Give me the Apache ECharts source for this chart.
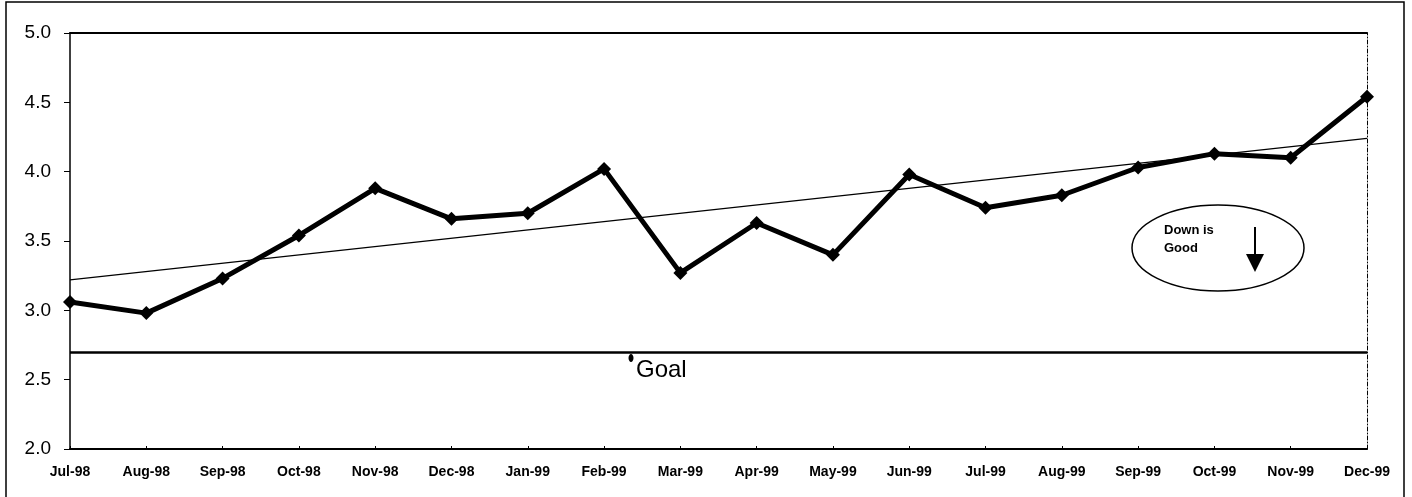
<!DOCTYPE html>
<html>
<head>
<meta charset="utf-8">
<script src="https://cdn.jsdelivr.net/npm/echarts@6/dist/echarts.min.js"></script>
<style>html,body{margin:0;padding:0;background:#fff}#c{width:1412px;height:497px}</style>
</head>
<body>
<div id="c"></div>
<script>
var categories = ['Jul-98','Aug-98','Sep-98','Oct-98','Nov-98','Dec-98','Jan-99','Feb-99','Mar-99','Apr-99','May-99','Jun-99','Jul-99','Aug-99','Sep-99','Oct-99','Nov-99','Dec-99'];
var values = [3.06, 2.98, 3.23, 3.54, 3.88, 3.66, 3.70, 4.02, 3.27, 3.63, 3.40, 3.98, 3.74, 3.83, 4.03, 4.13, 4.10, 4.54];
var trendStart = 3.22;
var trendEnd = 4.24;
var goal = 2.70;
var yTicks = [2.0, 2.5, 3.0, 3.5, 4.0, 4.5, 5.0];

var trend = categories.map(function (c, i) {
  return i === 0 ? trendStart : (i === categories.length - 1 ? trendEnd : null);
});

var chart = echarts.init(document.getElementById('c'));
var F = 'Liberation Sans, Arial, sans-serif';
chart.setOption({
  animation: false,
  backgroundColor: '#fff',
  grid: { left: 70, right: 45, top: 33, bottom: 48 },
  xAxis: [{
    type: 'category', data: categories, boundaryGap: false,
    axisLine: { lineStyle: { color: '#000', width: 2 } },
    axisTick: { show: true, inside: true, length: 3, lineStyle: { color: '#000' } },
    axisLabel: { color: '#000', fontFamily: F, fontWeight: 'bold', fontSize: 14, margin: 16, interval: 0 },
    splitLine: { show: false }
  }, {
    type: 'category', data: categories, boundaryGap: false, position: 'top',
    axisLine: { lineStyle: { color: '#000', width: 2 } },
    axisTick: { show: false }, axisLabel: { show: false }
  }],
  yAxis: [{
    type: 'value', min: yTicks[0], max: yTicks[yTicks.length - 1], interval: 0.5,
    axisLine: { show: true, lineStyle: { color: '#000', width: 1.5 } },
    axisTick: { show: true, length: 6, lineStyle: { color: '#000' } },
    axisLabel: { color: '#000', fontFamily: F, fontSize: 19, margin: 19, formatter: function (v) { return v.toFixed(1); } },
    splitLine: { show: false }
  }, {
    type: 'value', min: yTicks[0], max: yTicks[yTicks.length - 1], interval: 0.5, position: 'right',
    axisLine: { show: true, lineStyle: { color: '#000', width: 1, type: [4, 2, 1, 2] } },
    axisTick: { show: false }, axisLabel: { show: false }, splitLine: { show: false }
  }],
  series: [{
    type: 'line', data: trend, connectNulls: true, symbol: 'none',
    lineStyle: { color: '#000', width: 1.3 }, z: 2,
    markLine: {
      silent: true, symbol: 'none', label: { show: false },
      lineStyle: { color: '#000', width: 2.5, type: 'solid' },
      data: [{ yAxis: goal }]
    }
  }, {
    type: 'line', data: values, symbol: 'diamond', symbolSize: 14,
    itemStyle: { color: '#000' },
    lineStyle: { color: '#000', width: 5 }, z: 3
  }],
  graphic: [
    { type: 'rect', shape: { x: 6, y: 2, width: 1398, height: 500 }, style: { fill: 'none', stroke: '#000', lineWidth: 1.5 }, silent: true },
    { type: 'ellipse', shape: { cx: 1218, cy: 248, rx: 86, ry: 43 }, style: { fill: 'none', stroke: '#000', lineWidth: 1.5 } },
    { type: 'text', left: 1164, top: 224, style: { text: 'Down is', fill: '#000', font: 'bold 13px ' + F } },
    { type: 'text', left: 1164, top: 242, style: { text: 'Good', fill: '#000', font: 'bold 13px ' + F } },
    { type: 'line', shape: { x1: 1255, y1: 227, x2: 1255, y2: 258 }, style: { stroke: '#000', lineWidth: 2 } },
    { type: 'polygon', shape: { points: [[1246, 254], [1264, 254], [1255, 272]] }, style: { fill: '#000' } },
    { type: 'text', left: 636, top: 358, style: { text: 'Goal', fill: '#000', font: '24px ' + F } },
    { type: 'ellipse', shape: { cx: 631, cy: 358, rx: 2.5, ry: 4 }, style: { fill: '#000' } }
  ]
});
</script>
</body>
</html>
